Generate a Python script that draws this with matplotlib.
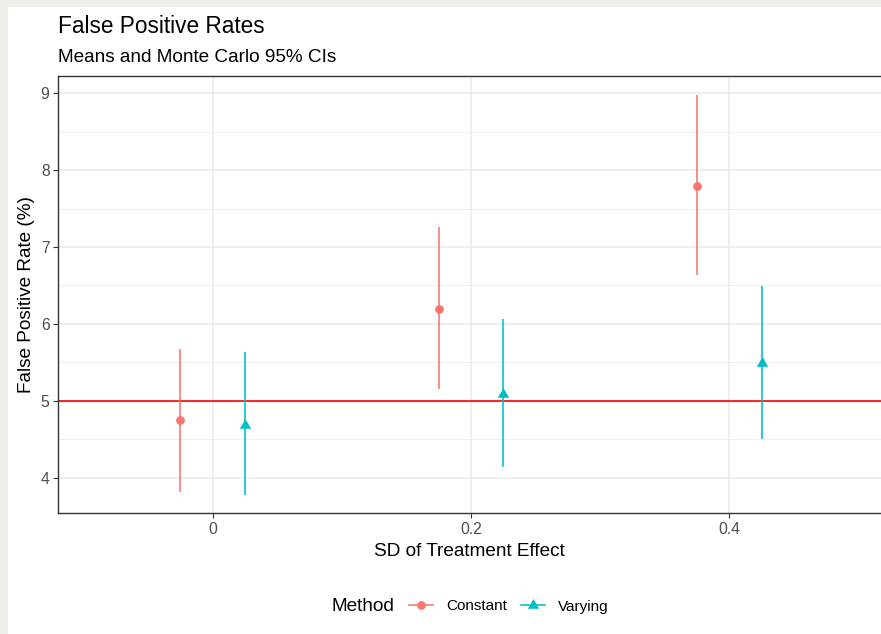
import numpy as np
import matplotlib.pyplot as plt
from matplotlib.lines import Line2D
from matplotlib.patches import Rectangle

plt.rcParams['font.family'] = ['Liberation Sans', 'DejaVu Sans']

# NOTE: values
sd_levels = [0.0, 0.2, 0.4]
x_tick_labels = ["0", "0.2", "0.4"]
y_ticks = [4, 5, 6, 7, 8, 9]
methods = ["Constant", "Varying"]
# Constant method: mean and Monte Carlo 95% CI
const_mean = [4.75, 6.20, 7.80]
const_low = [3.82, 5.15, 6.63]
const_high = [5.67, 7.26, 8.98]
# Varying method
vary_mean = [4.69, 5.09, 5.49]
vary_low = [3.78, 4.14, 4.50]
vary_high = [5.63, 6.06, 6.49]
nominal_rate = 5

# styling
colors = {"Constant": "#F8766D", "Varying": "#00BFC4"}
# R style triangle (circumcentre on the point)
tri = [(0, 1), (-0.866, -0.5), (0.866, -0.5), (0, 1)]
markers = {"Constant": "o", "Varying": tri}
msizes = {"Constant": 6.3, "Varying": 9.4}
dodge = 0.025

W, H = 881, 634
fig = plt.figure(figsize=(W / 100, H / 100), dpi=100)
fig.patch.set_facecolor("white")
# light frame strip around the screenshot (left and top)
fig.add_artist(Rectangle((0, 0), 8 / W, 1, transform=fig.transFigure,
                         facecolor="#EFEFEA", edgecolor="none", zorder=-5))
fig.add_artist(Rectangle((0, 1 - 7 / H), 1, 7 / H, transform=fig.transFigure,
                         facecolor="#EFEFEA", edgecolor="none", zorder=-5))

# panel
left, right, top, bottom = 58.3, 882.0, 75.7, 513.0
ax = fig.add_axes([left / W, 1 - bottom / H, (right - left) / W, (bottom - top) / H])

px_per_x = 1291.5
x0 = 0.0 - (212.7 - left) / px_per_x
x1 = 0.0 + (right - 212.7) / px_per_x
ax.set_xlim(x0, x1)
ax.set_ylim(3.541, 9.228)

# grid
for v in np.arange(4.5, 9.0, 1.0):
    ax.axhline(v, color="#EBEBEB", lw=0.6, zorder=0)
for v in y_ticks:
    ax.axhline(v, color="#EBEBEB", lw=1.1, zorder=0)
for v in sd_levels:
    ax.axvline(v, color="#EBEBEB", lw=1.1, zorder=0)

# nominal level
ax.axhline(nominal_rate, color="#FF0000", lw=1.2, zorder=1)

series = {
    "Constant": (const_mean, const_low, const_high, -dodge),
    "Varying": (vary_mean, vary_low, vary_high, dodge),
}
for m in methods:
    mean, lo, hi, off = series[m]
    xs = np.array(sd_levels) + off
    ax.vlines(xs, lo, hi, color=colors[m], lw=1.15, zorder=2)
    ax.plot(xs, mean, linestyle="none", marker=markers[m], markersize=msizes[m],
            color=colors[m], markeredgewidth=0, zorder=3)

ax.set_xticks(sd_levels)
ax.set_xticklabels(x_tick_labels)
ax.set_yticks(y_ticks)
ax.tick_params(axis="both", direction="out", length=3.5, width=0.8,
               color="#333333", labelcolor="#4D4D4D", labelsize=11.3, pad=2.8)
for s in ax.spines.values():
    s.set_color("#333333")
    s.set_linewidth(1.0)

# titles
fig.text(left / W, 1 - 33.3 / H, "False Positive Rates", fontsize=16.3,
         ha="left", va="baseline", color="black")
fig.text(left / W, 1 - 62.0 / H, "Means and Monte Carlo 95% CIs", fontsize=13.7,
         ha="left", va="baseline", color="black")
cx = (left + 881) / 2 / W
fig.text(cx, 1 - 556 / H, "SD of Treatment Effect", fontsize=13.7,
         ha="center", va="baseline", color="black")
fig.text(26.5 / W, 1 - (top + bottom) / 2 / H, "False Positive Rate (%)", fontsize=13.7,
         rotation=90, ha="center", va="center", color="black")

# legend
handles = [Line2D([0], [0], color=colors[m], lw=1.15, marker=markers[m],
                  markersize=msizes[m], markeredgewidth=0) for m in methods]
fig.text(331.7 / W, 1 - 606.5 / H, "Method", fontsize=13.7, ha="left", va="center")
fig.legend(handles, methods, ncol=2, loc="center",
           bbox_to_anchor=(509 / W, 1 - 606.5 / H), frameon=False,
           fontsize=11.0, handlelength=1.6, handletextpad=0.85,
           columnspacing=0.9, borderpad=0, borderaxespad=0)

fig.savefig("out.png", dpi=100)
